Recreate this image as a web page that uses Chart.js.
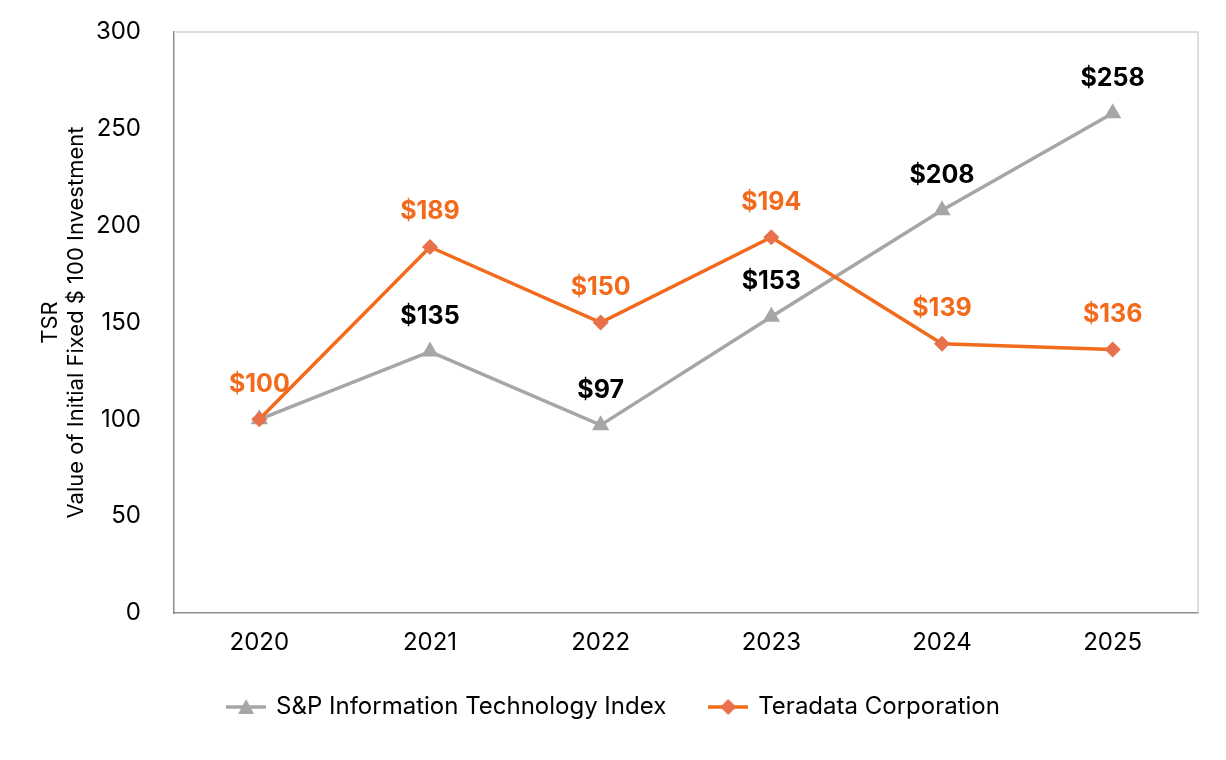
<!DOCTYPE html>
<html>
<head>
<meta charset="utf-8">
<script src="https://cdn.jsdelivr.net/npm/chart.js@4.4.1/dist/chart.umd.min.js"></script>
<style>
  html, body { margin: 0; padding: 0; background: #fff; }
  #wrap { width: 1226px; height: 760px; }
</style>
</head>
<body>
<div id="wrap"><canvas id="tsr"></canvas></div>
<script>
const years = ["2020", "2021", "2022", "2023", "2024", "2025"];
const spIndex = [100, 135, 97, 153, 208, 258];
const teradata = [100, 189, 150, 194, 139, 136];
const yTicks = [0, 50, 100, 150, 200, 250, 300];

const GRAY = "#a6a6a6";
const ORANGE = "#f26a1b";
const ORANGE_MARK = "#e8714b";

Chart.defaults.font.family = "Inter";
Chart.defaults.color = "#000";

// small line+marker icon used as legend point style
function legendIcon(color, markColor, shape) {
  const c = document.createElement("canvas");
  c.width = 40;
  c.height = 20;
  const ctx = c.getContext("2d");
  ctx.strokeStyle = color;
  ctx.lineWidth = 3.5;
  ctx.beginPath();
  ctx.moveTo(0, 10);
  ctx.lineTo(40, 10);
  ctx.stroke();
  ctx.fillStyle = markColor;
  ctx.beginPath();
  if (shape === "triangle") {
    ctx.moveTo(20, 2);
    ctx.lineTo(28, 17);
    ctx.lineTo(12, 17);
  } else {
    ctx.moveTo(20, 2);
    ctx.lineTo(28, 10);
    ctx.lineTo(20, 18);
    ctx.lineTo(12, 10);
  }
  ctx.closePath();
  ctx.fill();
  return c;
}

const plotFrame = {
  id: "plotFrame",
  afterLayout(chart) {
    // legend centring counts trailing padding, nudge it back
    chart.legend.left += 15;
    chart.legend.right += 15;
  },
  beforeDatasetsDraw(chart) {
    const { ctx, chartArea: a } = chart;
    ctx.save();
    ctx.strokeStyle = "#d3d3d3";
    ctx.lineWidth = 1.5;
    ctx.beginPath();
    ctx.moveTo(a.left, a.top);
    ctx.lineTo(a.right, a.top);
    ctx.lineTo(a.right, a.bottom);
    ctx.stroke();
    ctx.restore();
  },
};

const valueLabels = {
  id: "valueLabels",
  afterDatasetsDraw(chart) {
    const ctx = chart.ctx;
    ctx.save();
    ctx.font = "bold 25px Inter";
    ctx.textAlign = "center";
    ctx.textBaseline = "middle";
    chart.data.datasets.forEach((ds, i) => {
      const meta = chart.getDatasetMeta(i);
      ctx.fillStyle = ds.labelColor;
      meta.data.forEach((pt, j) => {
        if (ds.skipLabel && ds.skipLabel.includes(j)) return;
        ctx.fillText("$" + ds.data[j], pt.x, pt.y - 35);
      });
    });
    ctx.restore();
  },
};

new Chart(document.getElementById("tsr"), {
  type: "line",
  data: {
    labels: years,
    datasets: [
      {
        label: "S&P Information Technology Index",
        data: spIndex,
        borderColor: GRAY,
        backgroundColor: GRAY,
        borderWidth: 3.5,
        pointStyle: "triangle",
        pointRadius: 10,
        pointBackgroundColor: GRAY,
        pointBorderWidth: 0,
        labelColor: "#000",
        skipLabel: [0],
        order: 1,
        icon: legendIcon(GRAY, GRAY, "triangle"),
      },
      {
        label: "Teradata Corporation",
        data: teradata,
        borderColor: ORANGE,
        backgroundColor: ORANGE_MARK,
        borderWidth: 3.5,
        pointStyle: "rectRot",
        pointRadius: 8,
        pointBackgroundColor: ORANGE_MARK,
        pointBorderWidth: 0,
        labelColor: ORANGE,
        order: 0,
        icon: legendIcon(ORANGE, ORANGE_MARK, "diamond"),
      },
    ],
  },
  options: {
    responsive: true,
    maintainAspectRatio: false,
    animation: false,
    layout: { padding: { top: 32, right: 28, bottom: 31, left: 0 } },
    scales: {
      x: {
        offset: true,
        grid: { display: false, drawTicks: false },
        border: { color: "#8c8c8c", width: 1.5 },
        ticks: { font: { size: 24 }, color: "#000", padding: 15 },
        afterFit(scale) {
          scale.height = 38;
          scale.paddingLeft = 0;
          scale.paddingRight = 0;
        },
      },
      y: {
        min: 0,
        max: 300,
        afterBuildTicks(scale) { scale.ticks = yTicks.map((v) => ({ value: v })); },
        grid: { display: false, drawTicks: false },
        border: { color: "#8c8c8c", width: 1.5 },
        ticks: { font: { size: 24 }, color: "#000", padding: 33 },
        title: {
          display: true,
          text: ["TSR", "Value of Initial Fixed $ 100 Investment"],
          font: { size: 22, lineHeight: 1.2 },
          color: "#000",
          padding: { top: 37, bottom: 0 },
        },
        afterFit(scale) {
          scale.width = 174;
          scale.paddingTop = 0;
          scale.paddingBottom = 0;
        },
      },
    },
    plugins: {
      tooltip: { enabled: false },
      legend: {
        position: "bottom",
        labels: {
          font: { size: 24 },
          color: "#000",
          usePointStyle: true,
          pointStyleWidth: 36,
          padding: 44,
          sort: (a, b) => a.datasetIndex - b.datasetIndex,
          generateLabels(chart) {
            return chart.data.datasets.map((ds, i) => ({
              text: ds.label,
              pointStyle: ds.icon,
              fillStyle: ds.backgroundColor,
              strokeStyle: ds.borderColor,
              lineWidth: 0,
              fontColor: "#000",
              hidden: false,
              datasetIndex: i,
            }));
          },
        },
      },
    },
  },
  plugins: [plotFrame, valueLabels],
});
</script>
</body>
</html>
